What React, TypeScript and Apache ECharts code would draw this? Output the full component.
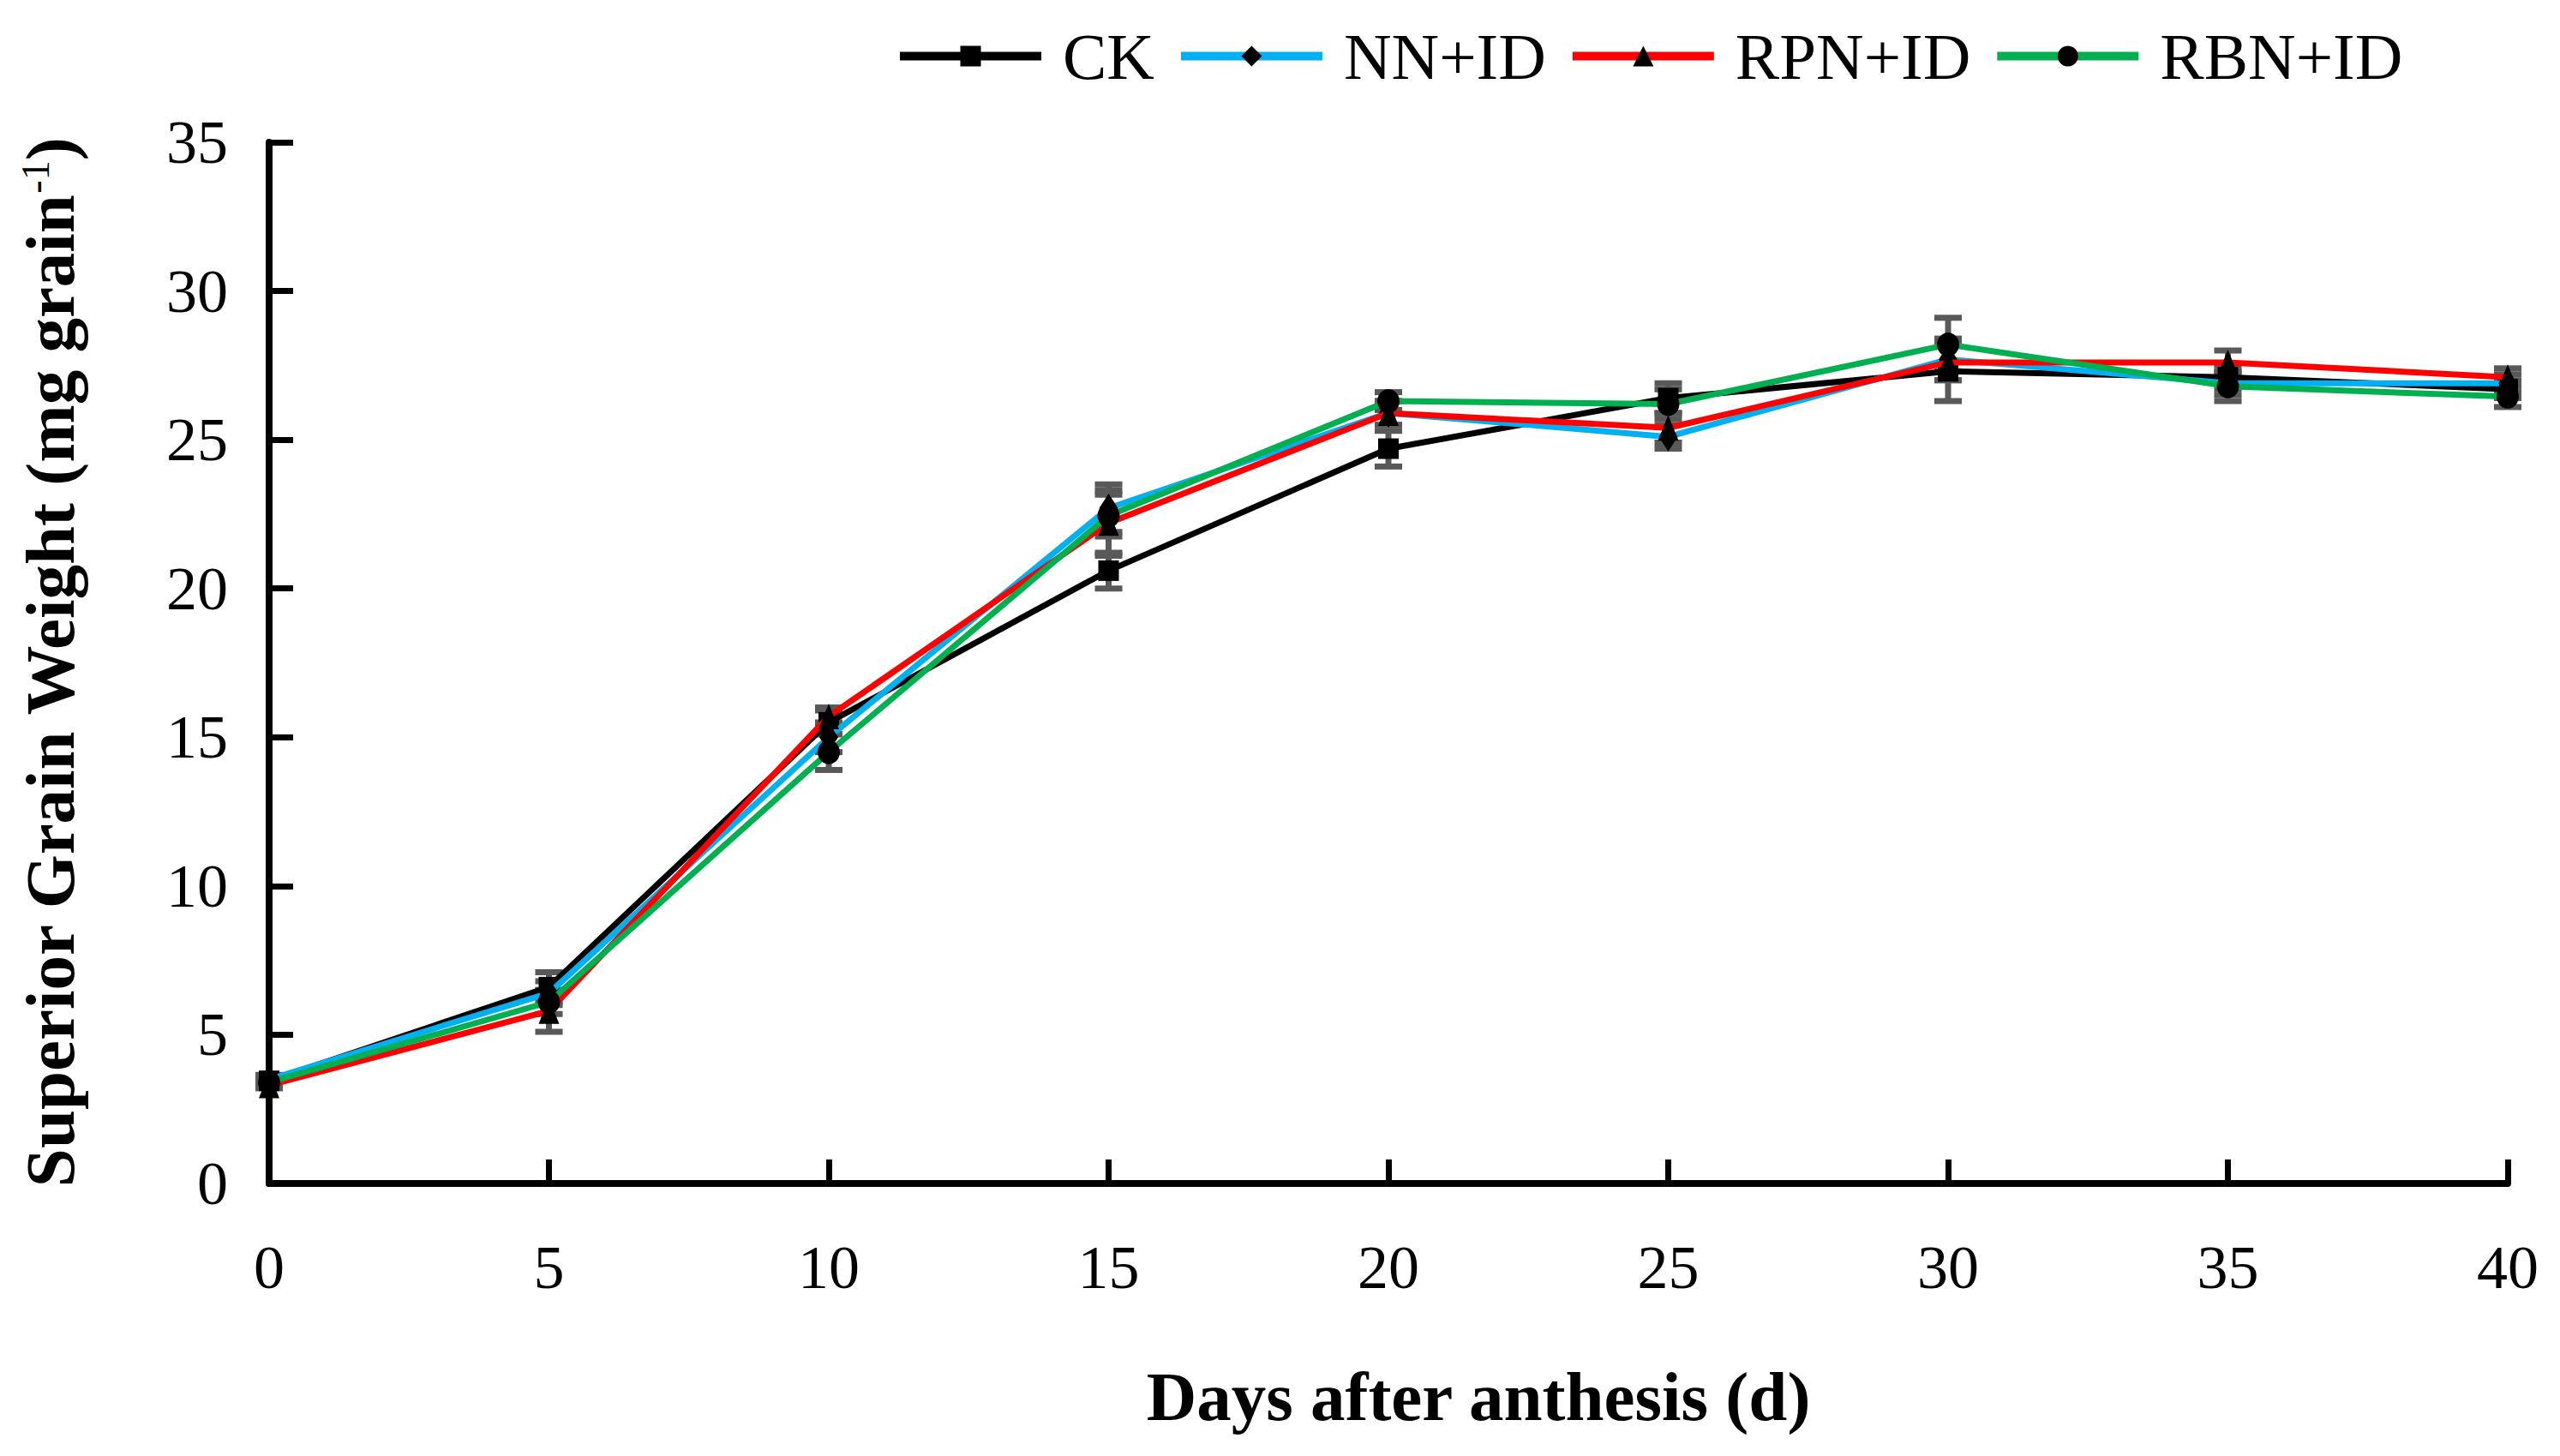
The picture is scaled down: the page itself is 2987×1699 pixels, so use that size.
import { useEffect, useRef } from "react";
import * as echarts from "echarts";

const days = [0, 5, 10, 15, 20, 25, 30, 35, 40];
const seriesNames = ["CK", "NN+ID", "RPN+ID", "RBN+ID"];
const ck = [3.45, 6.6, 15.5, 20.6, 24.7, 26.4, 27.3, 27.1, 26.7];
const nn = [3.5, 6.4, 15.0, 22.7, 25.9, 25.1, 27.7, 26.9, 26.9];
const rpn = [3.3, 5.8, 15.7, 22.2, 25.9, 25.4, 27.6, 27.6, 27.1];
const rbn = [3.4, 6.1, 14.5, 22.45, 26.3, 26.2, 28.2, 26.8, 26.45];
const ckErr = [0.15, 0.5, 0.4, 0.6, 0.6, 0.5, 1.0, 0.4, 0.3];
const nnErr = [0.15, 0.4, 0.5, 0.8, 0.4, 0.4, 0.7, 0.4, 0.3];
const rpnErr = [0.1, 0.7, 0.3, 1.1, 0.4, 0.5, 0.6, 0.4, 0.3];
const rbnErr = [0.15, 0.4, 0.6, 0.7, 0.3, 0.5, 0.9, 0.5, 0.35];

const colors = ["#000000", "#00B0F0", "#FF0000", "#00B050"];
const symbols = ["rect", "diamond", "triangle", "circle"];
const symbolSizes: (number | number[])[] = [[24, 24], [22, 34], [24, 30], [26, 28]];

const FONT = "'Liberation Serif', 'Times New Roman', serif";

export default function App() {
  const ref = useRef<HTMLDivElement>(null);

  useEffect(() => {
    if (!ref.current) return;
    const chart = echarts.init(ref.current, null, { renderer: "svg" });

    const values = [ck, nn, rpn, rbn];
    const errs = [ckErr, nnErr, rpnErr, rbnErr];

    // error bars drawn under the lines
    const errorSeries = values.map((vals, i) => ({
      type: "custom",
      name: "err-" + seriesNames[i],
      z: 1,
      silent: true,
      encode: { x: 0, y: [1, 2] },
      data: days.map((d, j) => [d, vals[j] - errs[i][j], vals[j] + errs[i][j]]),
      renderItem: (_params: any, api: any) => {
        const x = api.value(0);
        const top = api.coord([x, api.value(2)]);
        const bot = api.coord([x, api.value(1)]);
        const hw = 16;
        const style = { stroke: "#595959", lineWidth: 7 };
        return {
          type: "group",
          children: [
            { type: "line", shape: { x1: top[0], y1: top[1], x2: bot[0], y2: bot[1] }, style },
            { type: "line", shape: { x1: top[0] - hw, y1: top[1], x2: top[0] + hw, y2: top[1] }, style },
            { type: "line", shape: { x1: bot[0] - hw, y1: bot[1], x2: bot[0] + hw, y2: bot[1] }, style },
          ],
        };
      },
    }));

    const lineSeries = values.map((vals, i) => ({
      type: "line",
      name: seriesNames[i],
      z: 2 + i,
      data: days.map((d, j) => [d, vals[j]]),
      symbol: symbols[i],
      symbolSize: symbolSizes[i],
      showSymbol: true,
      lineStyle: { color: colors[i], width: 7 },
      itemStyle: { color: "#000000" },
      color: colors[i],
    }));

    chart.setOption({
      animation: false,
      backgroundColor: "#ffffff",
      grid: { left: 314, right: 61, top: 166, bottom: 318 },
      legend: {
        data: seriesNames,
        left: 1040,
        top: 22,
        itemWidth: 165,
        itemHeight: 30,
        itemGap: 26,
        lineStyle: { width: 10 },
        textStyle: {
          fontFamily: FONT,
          fontSize: 77,
          color: "#000",
          padding: [0, 0, 0, 20],
        },
      },
      xAxis: {
        type: "value",
        min: 0,
        max: 40,
        interval: 5,
        name: "Days after anthesis (d)",
        nameLocation: "middle",
        nameGap: 208,
        nameTextStyle: {
          fontFamily: FONT,
          fontSize: 81,
          fontWeight: "bold",
          color: "#000",
          padding: [0, 0, 0, 210],
        },
        axisLine: { onZero: false, lineStyle: { color: "#000", width: 8 } },
        axisTick: { inside: true, length: 28, lineStyle: { color: "#000", width: 7 } },
        axisLabel: { fontFamily: FONT, fontSize: 72, color: "#000", margin: 62 },
        splitLine: { show: false },
      },
      yAxis: {
        type: "value",
        min: 0,
        max: 35,
        interval: 5,
        name: "{a|Superior Grain Weight (mg grain}{s|-1}{a|)}",
        nameLocation: "middle",
        nameGap: 215,
        nameTextStyle: {
          rich: {
            a: {
              fontFamily: FONT,
              fontSize: 81,
              fontWeight: "bold",
              color: "#000",
            },
            s: {
              fontFamily: FONT,
              fontSize: 46,
              color: "#000",
              verticalAlign: "top",
            },
          },
        },
        axisLine: { show: true, lineStyle: { color: "#000", width: 8 } },
        axisTick: { show: true, inside: true, length: 28, lineStyle: { color: "#000", width: 7 } },
        axisLabel: { fontFamily: FONT, fontSize: 72, color: "#000", margin: 48 },
        splitLine: { show: false },
      },
      series: [...errorSeries, ...lineSeries],
    });

    return () => {
      chart.dispose();
    };
  }, []);

  return (
    <div
      ref={ref}
      style={{ position: "absolute", left: 0, top: 0, width: 2987, height: 1699 }}
    />
  );
}
